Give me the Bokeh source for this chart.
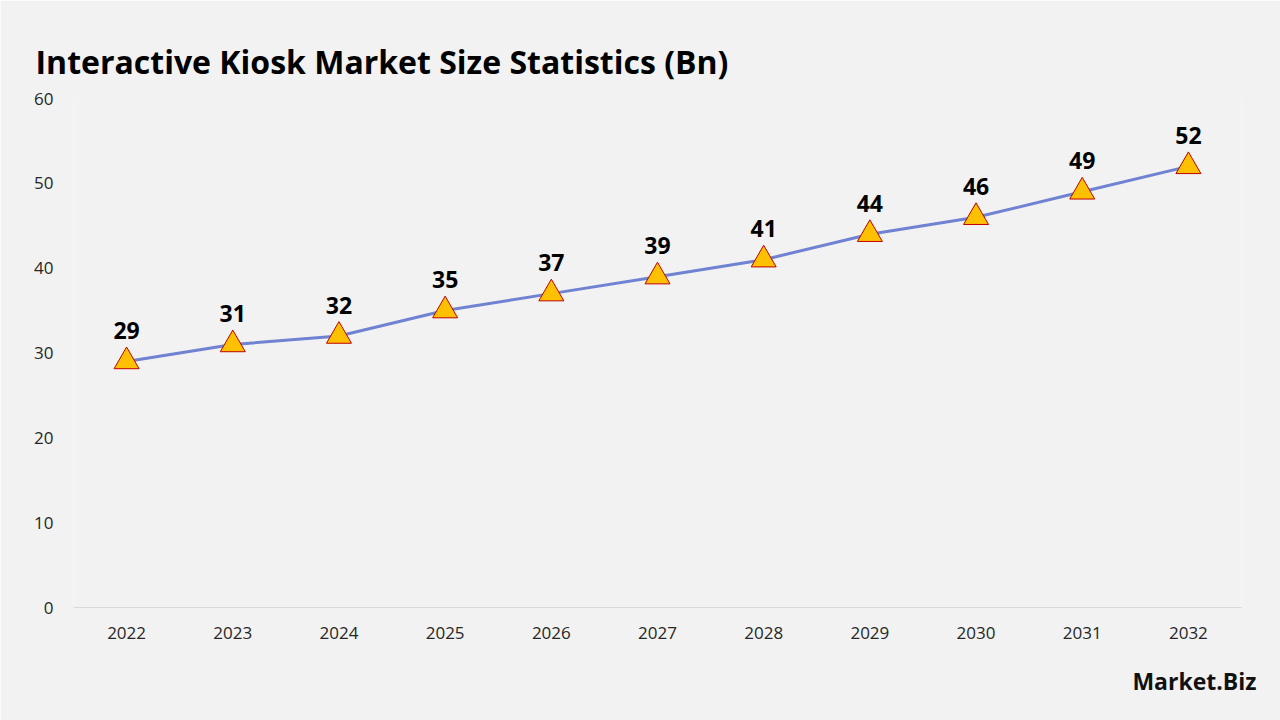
from bokeh.plotting import figure
from bokeh.models import ColumnDataSource, FixedTicker, Title
from bokeh.core.properties import value
from bokeh.embed import file_html
from bokeh.resources import INLINE

years = ["2022", "2023", "2024", "2025", "2026", "2027", "2028", "2029", "2030", "2031", "2032"]
market_size = [29, 31, 32, 35, 37, 39, 41, 44, 46, 49, 52]
y_ticks = [0, 10, 20, 30, 40, 50, 60]

FONT = "Open Sans"
BG = "#f2f2f2"

src = ColumnDataSource(dict(year=years, size=market_size, label=[str(v) for v in market_size]))

p = figure(
    width=1280, height=720,
    x_range=years, y_range=(0, 60),
    output_backend="svg", toolbar_location=None,
    background_fill_color=BG, border_fill_color=BG,
    min_border_left=73, min_border_right=39, min_border_bottom=113, min_border_top=98,
    title="Interactive Kiosk Market Size Statistics (Bn)",
)
p.outline_line_color = None
p.xgrid.grid_line_color = None
p.ygrid.grid_line_color = None
p.x_range.range_padding = 0

p.title.text_font = FONT
p.title.text_font_size = "32px"
p.title.text_font_style = "bold"
p.title.text_color = "#000000"
p.title.offset = -38
p.title.standoff = 31

p.yaxis.ticker = FixedTicker(ticks=y_ticks)
p.yaxis.axis_line_color = None
p.yaxis.major_tick_line_color = None
p.yaxis.minor_tick_line_color = None
p.yaxis.major_label_text_font = FONT
p.yaxis.major_label_text_font_size = "17px"
p.yaxis.major_label_text_color = "#262626"
p.yaxis.major_label_standoff = 14

p.xaxis.axis_line_color = "#d9d9d9"
p.xaxis.major_tick_line_color = None
p.xaxis.minor_tick_line_color = None
p.xaxis.major_label_text_font = FONT
p.xaxis.major_label_text_font_size = "17px"
p.xaxis.major_label_text_color = "#262626"
p.xaxis.major_label_standoff = 13

p.line("year", "size", source=src, line_color="#7082d2", line_width=3)
p.scatter("year", "size", source=src, marker="triangle", size=25,
          fill_color="#ffc000", line_color="#c00000", line_width=1)
p.text("year", "size", text="label", source=src, y_offset=-31,
       text_align="center", text_baseline="middle",
       text_font=value(FONT), text_font_style="bold",
       text_font_size="23px", text_color="#000000")

# brand mark in the bottom-right corner
brand = Title(text="Market.Biz", align="right", offset=-15, standoff=42,
              text_font=FONT, text_font_size="23px", text_font_style="bold",
              text_color="#111111")
p.add_layout(brand, "below")

open("out.html", "w").write(file_html(p, INLINE))
